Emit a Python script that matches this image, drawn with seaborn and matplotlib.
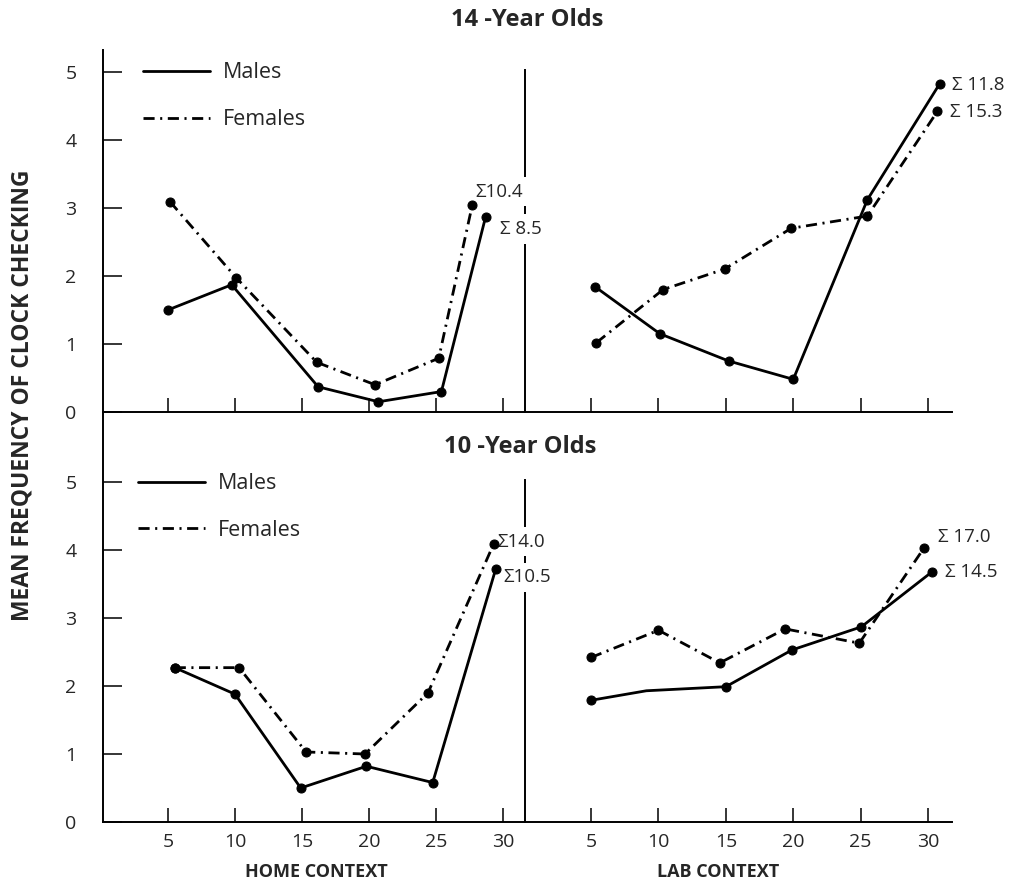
import numpy as np
import pandas as pd
import seaborn as sns
import matplotlib.pyplot as plt
from matplotlib.lines import Line2D

sns.set_style("white")
plt.rcParams['font.family'] = ['Open Sans', 'DejaVu Sans']
plt.rcParams['lines.scale_dashes'] = False

# 14-year olds, home context
home14_m_x = [5.0, 9.75, 16.2, 20.7, 25.4, 28.7]
home14_m_y = [1.50, 1.87, 0.37, 0.15, 0.30, 2.87]
home14_f_x = [5.15, 10.1, 16.1, 20.45, 25.2, 27.7]
home14_f_y = [3.09, 1.97, 0.73, 0.40, 0.79, 3.04]
# 14-year olds, lab context
lab14_m_x = [5.3, 10.1, 15.2, 20.0, 25.5, 30.85]
lab14_m_y = [1.84, 1.15, 0.75, 0.48, 3.12, 4.82]
lab14_f_x = [5.4, 10.35, 14.9, 19.85, 25.5, 30.7]
lab14_f_y = [1.02, 1.80, 2.10, 2.70, 2.88, 4.42]
# 10-year olds, home context
home10_m_x = [5.5, 10.0, 14.9, 19.8, 24.75, 29.45]
home10_m_y = [2.27, 1.88, 0.50, 0.82, 0.58, 3.72]
home10_f_x = [5.5, 10.3, 15.3, 19.7, 24.4, 29.3]
home10_f_y = [2.27, 2.27, 1.03, 1.00, 1.90, 4.09]
# 10-year olds, lab context
lab10_m_x = [5.0, 9.1, 15.0, 19.9, 25.05, 30.3]
lab10_m_y = [1.79, 1.93, 1.99, 2.53, 2.87, 3.68]
lab10_f_x = [5.0, 10.0, 14.55, 19.4, 24.9, 29.7]
lab10_f_y = [2.42, 2.82, 2.34, 2.84, 2.63, 4.03]

xticks = [5, 10, 15, 20, 25, 30]
yticks = [0, 1, 2, 3, 4, 5]

DASHDOT = (0, (8, 4, 1.5, 4))

fig = plt.figure(figsize=(10.14, 8.9), dpi=100)
x0, xm, x1 = 0.1016, 0.5178, 0.9389
top_b, top_t = 0.5371, 0.9438
bot_b = 0.0764

ax_h14 = fig.add_axes([x0, top_b, xm - x0, top_t - top_b])
ax_l14 = fig.add_axes([xm, top_b, x1 - xm, top_t - top_b])
ax_h10 = fig.add_axes([x0, bot_b, xm - x0, top_b - bot_b])
ax_l10 = fig.add_axes([xm, bot_b, x1 - xm, top_b - bot_b])
# home panels on top so their labels can cut the divider line
ax_h14.set_zorder(3)
ax_h10.set_zorder(3)


def draw(ax, mx, my, fx, fy, m_every=None):
    kw = dict(color='black', linewidth=2.0, marker='o', markersize=6.5,
              markeredgecolor='black', estimator=None, ax=ax)
    sns.lineplot(x=mx, y=my, markevery=m_every, **kw)
    sns.lineplot(x=fx, y=fy, linestyle=DASHDOT, **kw)


draw(ax_h14, home14_m_x, home14_m_y, home14_f_x, home14_f_y)
draw(ax_l14, lab14_m_x, lab14_m_y, lab14_f_x, lab14_f_y)
draw(ax_h10, home10_m_x, home10_m_y, home10_f_x, home10_f_y)
draw(ax_l10, lab10_m_x, lab10_m_y, lab10_f_x, lab10_f_y, m_every=[0, 2, 3, 4, 5])

for ax, top in [(ax_h14, 5.32), (ax_l14, 5.32), (ax_h10, 6.03), (ax_l10, 6.03)]:
    ax.set_ylim(0, top)
    ax.set_xticks(xticks)
    ax.set_yticks(yticks)
    ax.set_xlabel('')
    ax.set_ylabel('')
    ax.set_facecolor('none')
    for s in ['top', 'right']:
        ax.spines[s].set_visible(False)
    for s in ['left', 'bottom']:
        ax.spines[s].set_linewidth(1.4)
        ax.spines[s].set_color('black')
    ax.tick_params(axis='x', direction='in', length=10, width=1.3,
                   labelsize=14, pad=8, bottom=True)
    ax.tick_params(axis='y', direction='in', length=14, width=1.3,
                   labelsize=14, pad=19, left=True)

for ax in [ax_h14, ax_h10]:
    ax.set_xlim(0.15, 31.64)
for ax in [ax_l14, ax_l10]:
    ax.set_xlim(0.10, 31.78)
    ax.tick_params(axis='y', left=False, labelleft=False)
    ax.spines['left'].set_bounds(0, 5.03)

for ax in [ax_h14, ax_l14]:
    ax.tick_params(axis='x', labelbottom=False)

# sum annotations (white box sits under the lines but over the divider)
box = dict(facecolor='white', edgecolor='none', pad=4)
ann = [
    (ax_h14, 27.9, 3.24, '\u03a310.4'),
    (ax_h14, 29.8, 2.69, '\u03a3 8.5'),
    (ax_l14, 31.8, 4.81, '\u03a3 11.8'),
    (ax_l14, 31.63, 4.41, '\u03a3 15.3'),
    (ax_h10, 29.55, 4.12, '\u03a314.0'),
    (ax_h10, 30.0, 3.60, '\u03a310.5'),
    (ax_l10, 30.74, 4.19, '\u03a3 17.0'),
    (ax_l10, 31.26, 3.68, '\u03a3 14.5'),
]
for ax, x, y, s in ann:
    ax.text(x, y, s, ha='left', va='center', fontsize=13.5,
            bbox=box, clip_on=False, zorder=1.5)

# legends
handles = [Line2D([], [], color='black', linewidth=2.0),
           Line2D([], [], color='black', linewidth=2.0, linestyle=DASHDOT)]
for ax, anchor in [(ax_h14, (0.141, 0.930)), (ax_h10, (0.136, 0.4685))]:
    ax.legend(handles, ['Males', 'Females'], loc='upper left',
              bbox_to_anchor=anchor, bbox_transform=fig.transFigure,
              frameon=False, fontsize=15.5, handlelength=3.1,
              handletextpad=0.6, labelspacing=1.2, borderpad=0,
              borderaxespad=0)

fig.text(0.52, 0.9775, '14 -Year Olds', ha='center', va='center',
         fontsize=17, fontweight='bold')
fig.text(0.513, 0.4978, '10 -Year Olds', ha='center', va='center',
         fontsize=17, fontweight='bold')
fig.text(0.0217, 0.556, 'MEAN FREQUENCY OF CLOCK CHECKING', rotation=90,
         ha='center', va='center', fontsize=16.5, fontweight='bold')
fig.text(0.3116, 0.0202, 'HOME CONTEXT', ha='center', va='center',
         fontsize=13, fontweight='bold')
fig.text(0.708, 0.0202, 'LAB CONTEXT', ha='center', va='center',
         fontsize=13, fontweight='bold')

fig.savefig('out.png', dpi=100)
